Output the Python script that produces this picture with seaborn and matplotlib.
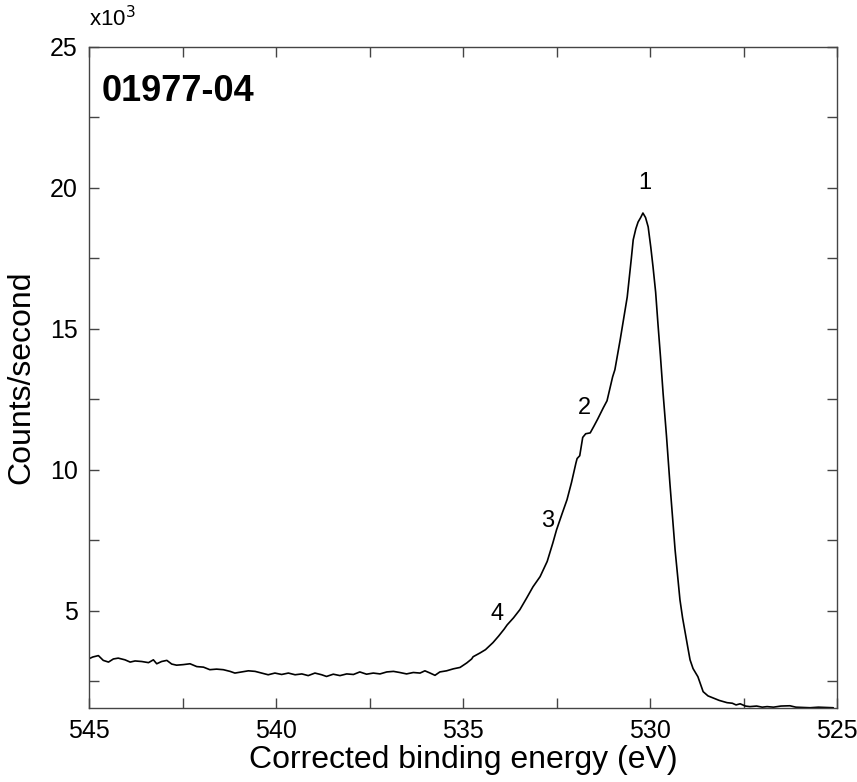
import matplotlib
matplotlib.use('Agg')
import matplotlib.pyplot as plt
from matplotlib.ticker import MultipleLocator, FuncFormatter
import seaborn as sns
import pandas as pd

# binding energy (eV) and counts/second (x10^3)
energy = [545.00, 544.90, 544.75, 544.62, 544.48, 544.35, 544.22, 544.04, 543.90, 543.77,
          543.59, 543.41, 543.28, 543.19, 543.06, 542.92, 542.79, 542.66, 542.48, 542.30,
          542.12, 541.94, 541.77, 541.59, 541.41, 541.23, 541.10, 540.92, 540.74, 540.56,
          540.38, 540.21, 540.03, 539.85, 539.67, 539.49, 539.31, 539.14, 538.96, 538.78,
          538.65, 538.47, 538.29, 538.11, 537.93, 537.76, 537.58, 537.40, 537.22, 537.04,
          536.86, 536.69, 536.51, 536.33, 536.15, 536.02, 535.88, 535.75, 535.62, 535.44,
          535.26, 535.08, 534.90, 534.77, 534.73, 534.55, 534.40, 534.20, 534.05, 533.90,
          533.82, 533.65, 533.48, 533.30, 533.13, 532.94, 532.75, 532.60, 532.50, 532.35,
          532.22, 532.10, 531.98, 531.95, 531.88, 531.80, 531.72, 531.60, 531.50, 531.40,
          531.25, 531.15, 531.07, 531.00, 530.94, 530.80, 530.61, 530.50, 530.45, 530.38,
          530.32, 530.25, 530.19, 530.12, 530.05, 529.98, 529.92, 529.85, 529.79, 529.72,
          529.65, 529.56, 529.47, 529.40, 529.33, 529.26, 529.20, 529.13, 529.06, 528.99,
          528.93, 528.85, 528.72, 528.65, 528.58, 528.45, 528.32, 528.15, 527.94, 527.80,
          527.70, 527.59, 527.45, 527.33, 527.15, 527.00, 526.87, 526.70, 526.50, 526.26,
          526.10, 525.90, 525.72, 525.50, 525.30, 525.10]
counts_k = [3.30, 3.36, 3.41, 3.24, 3.18, 3.29, 3.32, 3.26, 3.18, 3.22,
            3.20, 3.16, 3.26, 3.12, 3.20, 3.24, 3.11, 3.07, 3.09, 3.12,
            3.02, 3.00, 2.91, 2.93, 2.91, 2.85, 2.79, 2.83, 2.87, 2.85,
            2.79, 2.73, 2.79, 2.74, 2.79, 2.73, 2.76, 2.70, 2.79, 2.73,
            2.67, 2.75, 2.70, 2.76, 2.74, 2.83, 2.75, 2.79, 2.76, 2.83,
            2.85, 2.81, 2.76, 2.81, 2.79, 2.87, 2.79, 2.71, 2.83, 2.87,
            2.94, 2.99, 3.15, 3.29, 3.37, 3.50, 3.62, 3.87, 4.10, 4.35,
            4.50, 4.75, 5.04, 5.45, 5.85, 6.21, 6.75, 7.40, 7.87, 8.45,
            8.94, 9.55, 10.25, 10.40, 10.50, 11.15, 11.28, 11.31, 11.55, 11.80,
            12.20, 12.45, 12.90, 13.30, 13.55, 14.60, 16.13, 17.50, 18.16, 18.55,
            18.79, 18.95, 19.11, 18.95, 18.62, 17.90, 17.20, 16.30, 15.21, 14.00,
            12.70, 11.20, 9.54, 8.35, 7.16, 6.20, 5.39, 4.75, 4.22, 3.70,
            3.26, 2.95, 2.66, 2.40, 2.13, 1.98, 1.91, 1.82, 1.74, 1.72,
            1.66, 1.70, 1.62, 1.60, 1.62, 1.58, 1.60, 1.58, 1.62, 1.63,
            1.58, 1.57, 1.56, 1.58, 1.57, 1.56]

# component labels and where they sit
peak_labels = ['1', '2', '3', '4']
peak_x = [530.13, 531.76, 532.75, 534.09]
peak_y = [20.18, 12.2, 8.19, 4.89]

data = pd.DataFrame({'Energy': energy, 'Counts': counts_k})

sns.set_style('ticks')
plt.rcParams['font.family'] = ['Liberation Sans', 'DejaVu Sans']
plt.rcParams['text.color'] = 'black'
plt.rcParams['axes.labelcolor'] = 'black'
plt.rcParams['xtick.labelcolor'] = 'black'
plt.rcParams['ytick.labelcolor'] = 'black'

fig = plt.figure(figsize=(8.57, 7.82), dpi=100)
ax = fig.add_axes([0.1039, 0.0946, 0.8728, 0.8453])
sns.lineplot(x='Energy', y='Counts', data=data, color='black', linewidth=1.2,
             sort=False, estimator=None, ax=ax)

ax.set_xlim(545, 525)
ax.set_ylim(1.55, 25)
ax.xaxis.set_major_locator(MultipleLocator(5))
ax.xaxis.set_minor_locator(MultipleLocator(2.5))
ax.yaxis.set_major_locator(MultipleLocator(5))
ax.yaxis.set_minor_locator(MultipleLocator(2.5))
ax.xaxis.set_major_formatter(FuncFormatter(lambda v, p: f'{v:.0f}'))
ax.yaxis.set_major_formatter(FuncFormatter(lambda v, p: f'{v:.0f}'))
ax.tick_params(which='both', direction='in', top=True, right=True, length=7,
               width=1, color='#444444', labelcolor='black')
ax.tick_params(which='major', labelsize=18, pad=8)
for s in ax.spines.values():
    s.set_color('#444444')
    s.set_linewidth(1)

ax.set_xlabel('Corrected binding energy (eV)', fontsize=23, labelpad=1, color='black')
ax.set_ylabel('Counts/second', fontsize=23, labelpad=10, color='black')

ax.text(0.0, 1.031, r'x10$^3$', transform=ax.transAxes, fontsize=16,
        ha='left', va='baseline', color='black')
ax.text(0.017, 0.932, '01977-04', transform=ax.transAxes, fontsize=26,
        fontweight='bold', ha='left', va='center', color='black')

for lab, px, py in zip(peak_labels, peak_x, peak_y):
    ax.text(px, py, lab, fontsize=17, ha='center', va='center', color='black')

plt.savefig('out.png', dpi=100)
